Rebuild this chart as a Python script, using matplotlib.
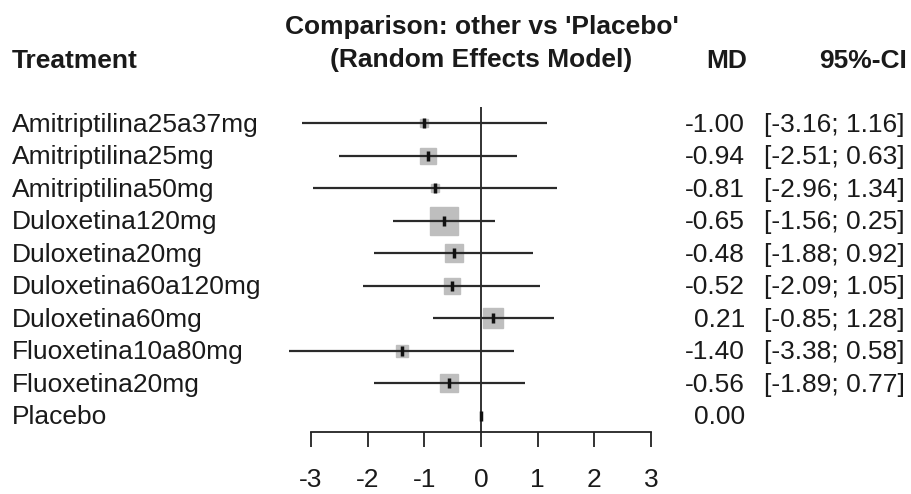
import matplotlib
matplotlib.use("Agg")
import matplotlib.pyplot as plt
import matplotlib.transforms as mtransforms
import numpy as np

# ---- data ----
treatments = ["Amitriptilina25a37mg", "Amitriptilina25mg", "Amitriptilina50mg",
              "Duloxetina120mg", "Duloxetina20mg", "Duloxetina60a120mg",
              "Duloxetina60mg", "Fluoxetina10a80mg", "Fluoxetina20mg", "Placebo"]
md = [-1.00, -0.94, -0.81, -0.65, -0.48, -0.52, 0.21, -1.40, -0.56, 0.00]
ci_lower = [-3.16, -2.51, -2.96, -1.56, -1.88, -2.09, -0.85, -3.38, -1.89, None]
ci_upper = [1.16, 0.63, 1.34, 0.25, 0.92, 1.05, 1.28, 0.58, 0.77, None]
weights = [8, 29, 10, 100, 41, 33, 56, 18, 41, 0]   # relative weight (box area)
x_ticks = [-3, -2, -1, 0, 1, 2, 3]
title_lines = ["Comparison: other vs 'Placebo'", "(Random Effects Model)"]
col_headers = ["Treatment", "MD", "95%-CI"]

# ---- figure ----
W, H = 912, 494
plt.rcParams['font.family'] = ['Liberation Sans', 'DejaVu Sans']
FS = 19
fig = plt.figure(figsize=(W / 100, H / 100), dpi=100)

ax = fig.add_axes([311 / W, 1 - 432 / H, 340 / W, 325 / H])
n = len(treatments)
rows = np.arange(1, n + 1)
ax.set_xlim(-3, 3)
ax.set_ylim(n + 0.5, 0.5)
for s in ['top', 'right', 'left']:
    ax.spines[s].set_visible(False)
ax.spines['bottom'].set_linewidth(1.3)
ax.spines['bottom'].set_color('#222222')
ax.set_yticks([])
ax.set_xticks(x_ticks)
ax.set_xticklabels([str(t) for t in x_ticks])
ax.tick_params(axis='x', direction='out', length=10.8, width=1.3,
               color='#222222', pad=15, labelsize=FS, labelcolor='#1a1a1a')
ax.patch.set_visible(False)

ax.axvline(0, color='#222222', lw=1.3, zorder=1)

max_side_pt = 28 * 0.72
for i in range(n):
    y = rows[i]
    w = weights[i]
    if w > 0:
        side = max_side_pt * np.sqrt(w / 100.0)
        ax.plot([md[i]], [y], marker='s', ms=side, mfc='#BEBEBE', mec='#BEBEBE',
                ls='none', zorder=2, clip_on=False)
    if ci_lower[i] is not None:
        ax.plot([ci_lower[i], ci_upper[i]], [y, y], color='#2a2a2a', lw=1.6,
                solid_capstyle='butt', zorder=3, clip_on=False)
    ax.plot([md[i]], [y], marker='|', ms=7, mew=2.5, color='#111111',
            ls='none', zorder=4, clip_on=False)

# ---- texts ----
row_tr = mtransforms.blended_transform_factory(fig.transFigure, ax.transData)
row_tr = mtransforms.offset_copy(row_tr, fig=fig, x=0, y=-8.5, units='dots')
txt_color = '#1a1a1a'
for i in range(n):
    y = rows[i]
    fig.text(12 / W, y, treatments[i], transform=row_tr, ha='left', va='baseline',
             fontsize=FS, color=txt_color)
    fig.text(745 / W, y, f"{md[i]:.2f}", transform=row_tr, ha='right',
             va='baseline', fontsize=FS, color=txt_color)
    if ci_lower[i] is not None:
        fig.text(905 / W, y, f"[{ci_lower[i]:.2f}; {ci_upper[i]:.2f}]",
                 transform=row_tr, ha='right', va='baseline', fontsize=FS,
                 color=txt_color)

fig.text(481.5 / W, 1 - 34 / H, title_lines[0], ha='center', va='baseline',
         fontsize=FS, fontweight='bold', color=txt_color)
fig.text(481.5 / W, 1 - 67.5 / H, title_lines[1], ha='center', va='baseline',
         fontsize=FS, fontweight='bold', color=txt_color)
fig.text(12 / W, 1 - 67.5 / H, col_headers[0], ha='left', va='baseline',
         fontsize=FS, fontweight='bold', color=txt_color)
fig.text(747 / W, 1 - 67.5 / H, col_headers[1], ha='right', va='baseline',
         fontsize=FS, fontweight='bold', color=txt_color)
fig.text(907 / W, 1 - 67.5 / H, col_headers[2], ha='right', va='baseline',
         fontsize=FS, fontweight='bold', color=txt_color)

fig.savefig("out.png", dpi=100)
